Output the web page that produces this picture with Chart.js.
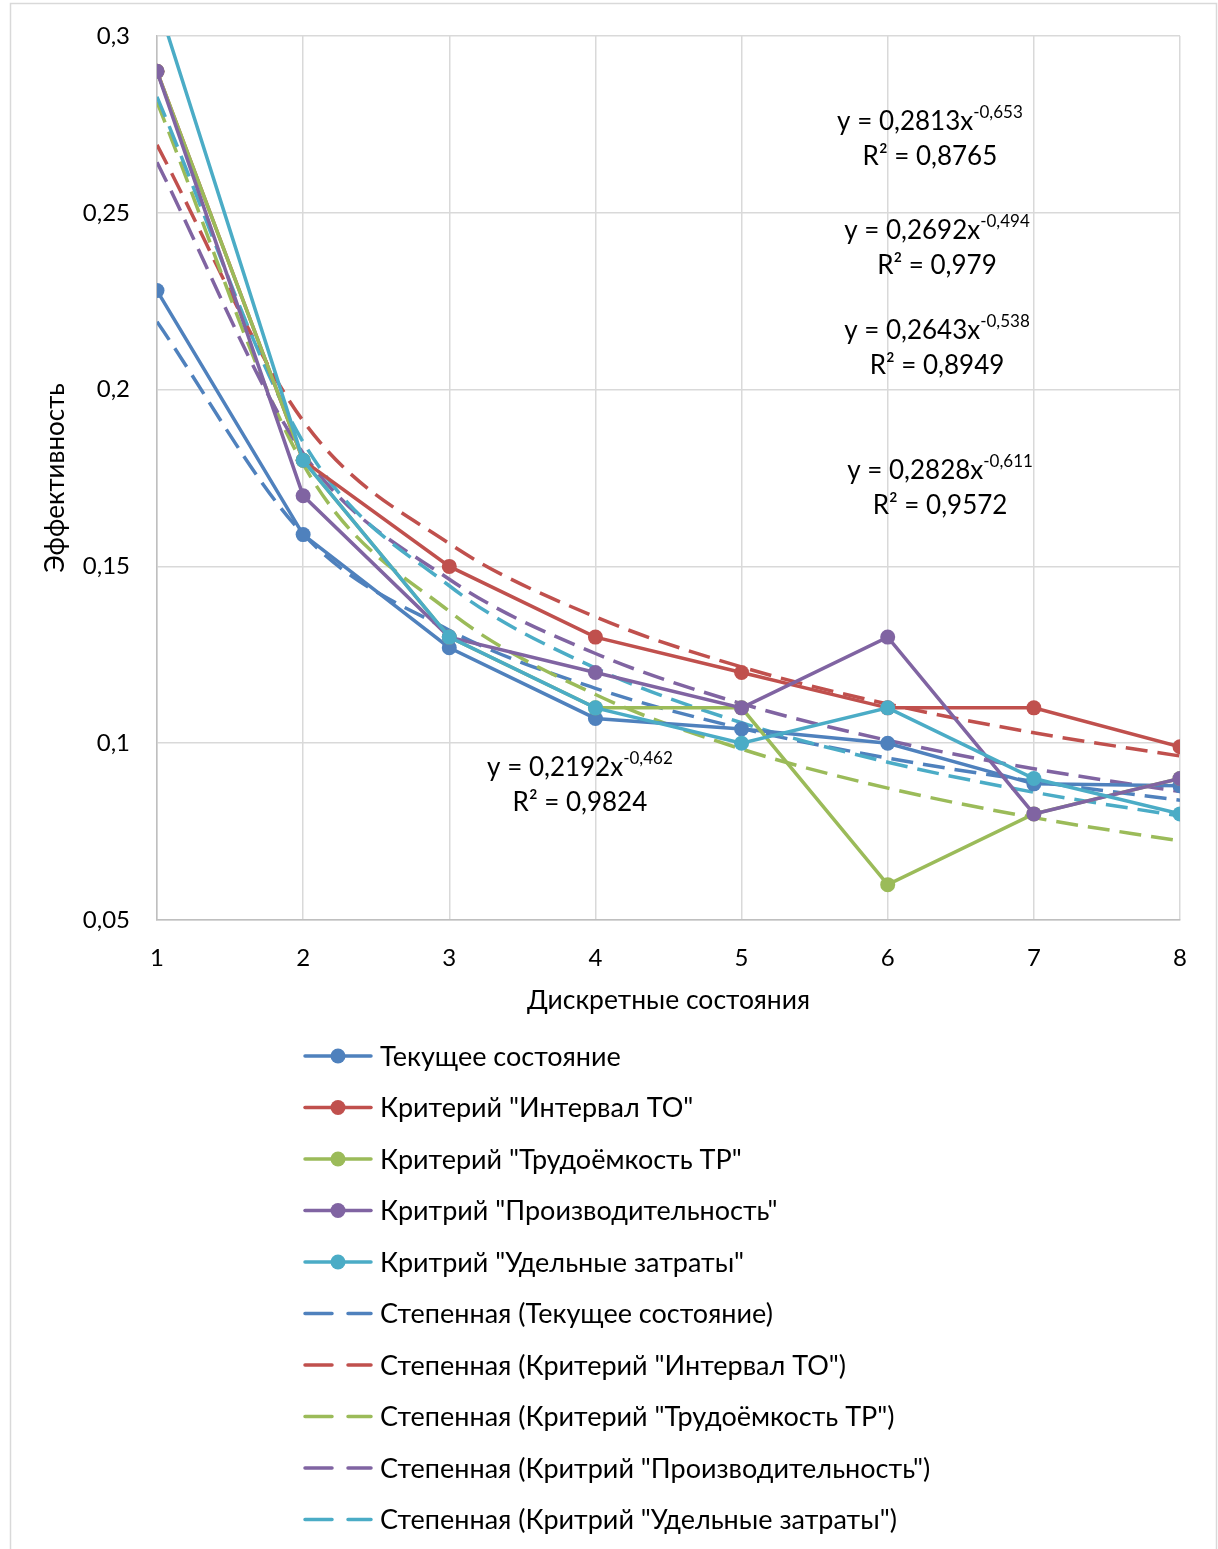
<!DOCTYPE html>
<html>
<head>
<meta charset="utf-8">
<script src="https://cdn.jsdelivr.net/npm/chart.js@4.4.1/dist/chart.umd.min.js"></script>
<style>
  html, body { margin: 0; padding: 0; background: #fff; }
  canvas { display: block; }
</style>
</head>
<body>
<canvas id="chart" width="1218" height="1549"></canvas>
<script>
// дискретные состояния
const states = [1, 2, 3, 4, 5, 6, 7, 8];

const seriesNames = [
  'Текущее состояние',
  'Критерий "Интервал ТО"',
  'Критерий "Трудоёмкость ТР"',
  'Критрий "Производительность"',
  'Критрий "Удельные затраты"'
];

// values
const tekushchee  = [0.228, 0.159, 0.127, 0.107, 0.104, 0.100, 0.0885, 0.088];
const intervalTO  = [0.29, 0.18, 0.15, 0.13, 0.12, 0.11, 0.11, 0.099];
const trudoemkost = [0.29, 0.18, 0.13, 0.11, 0.11, 0.06, 0.08, 0.09];
const proizvod    = [0.29, 0.17, 0.13, 0.12, 0.11, 0.13, 0.08, 0.09];
const zatraty     = [0.31, 0.18, 0.13, 0.11, 0.10, 0.11, 0.09, 0.08];

// степенные линии тренда y = a * x^b (coefficients printed on the chart)
const trendA  = [0.2192, 0.2692, 0.2813, 0.2643, 0.2828];
const trendB  = [-0.462, -0.494, -0.653, -0.538, -0.611];
const trendR2 = ['0,9824', '0,979', '0,8765', '0,8949', '0,9572'];

const colors = ['#4F81BD', '#C0504D', '#9BBB59', '#8064A2', '#4BACC6'];
const allSeries = [tekushchee, intervalTO, trudoemkost, proizvod, zatraty];

// where each equation label sits, in data units (centre of the first line)
const labelPos = [
  [3.894, 0.0930],
  [6.337, 0.2449],
  [6.289, 0.2757],
  [6.337, 0.2166],
  [6.358, 0.1770]
];

function comma(n) {
  return String(n).replace('.', ',');
}

const datasets = [];
allSeries.forEach(function (vals, i) {
  datasets.push({
    label: seriesNames[i],
    data: states.map(function (x, k) { return { x: x, y: vals[k] }; }),
    borderColor: colors[i],
    backgroundColor: colors[i],
    borderWidth: 3.5,
    pointRadius: 7.5,
    pointHoverRadius: 7.5,
    pointBorderWidth: 0,
    tension: 0,
    order: 5 - i
  });
});
allSeries.forEach(function (vals, i) {
  datasets.push({
    label: 'Степенная (' + seriesNames[i] + ')',
    data: states.map(function (x) { return { x: x, y: trendA[i] * Math.pow(x, trendB[i]) }; }),
    borderColor: colors[i],
    borderWidth: 3.5,
    borderDash: [22, 10],
    pointRadius: 0,
    cubicInterpolationMode: 'monotone',
    trend: true,
    order: 20 - i
  });
});

const extras = {
  id: 'extras',
  afterDraw: function (chart) {
    const ctx = chart.ctx;
    const xs = chart.scales.x, ys = chart.scales.y;
    ctx.save();

    // outer frame
    ctx.strokeStyle = '#D9D9D9';
    ctx.lineWidth = 1.5;
    ctx.beginPath();
    ctx.moveTo(10.5, 1560);
    ctx.lineTo(10.5, 3.5);
    ctx.lineTo(1216.5, 3.5);
    ctx.lineTo(1216.5, 1560);
    ctx.stroke();

    // trend equations
    ctx.fillStyle = '#000';
    ctx.textBaseline = 'middle';
    trendA.forEach(function (a, i) {
      const cx = xs.getPixelForValue(labelPos[i][0]);
      const cy = ys.getPixelForValue(labelPos[i][1]);
      const main = 'y = ' + comma(a) + 'x';
      const sup = comma(trendB[i]);
      ctx.font = '26px Lato';
      const w1 = ctx.measureText(main).width;
      ctx.font = '17px Lato';
      const w2 = ctx.measureText(sup).width;
      const x0 = cx - (w1 + w2) / 2;
      ctx.textAlign = 'left';
      ctx.font = '26px Lato';
      ctx.fillText(main, x0, cy);
      ctx.font = '17px Lato';
      ctx.fillText(sup, x0 + w1, cy - 9);
      ctx.font = '26px Lato';
      ctx.textAlign = 'center';
      ctx.fillText('R² = ' + trendR2[i], cx, cy + 35);
    });

    // legend, one entry per row
    const items = chart.data.datasets;
    ctx.textAlign = 'left';
    ctx.font = '27px Lato';
    items.forEach(function (ds, i) {
      const y = 1056 + i * 51.5;
      ctx.strokeStyle = ds.borderColor;
      ctx.lineWidth = 3.5;
      ctx.lineCap = 'round';
      ctx.beginPath();
      if (ds.trend) {
        ctx.moveTo(305, y); ctx.lineTo(332, y);
        ctx.moveTo(348, y); ctx.lineTo(371, y);
      } else {
        ctx.moveTo(305, y); ctx.lineTo(371, y);
      }
      ctx.stroke();
      if (!ds.trend) {
        ctx.fillStyle = ds.borderColor;
        ctx.beginPath();
        ctx.arc(338, y, 7.5, 0, Math.PI * 2);
        ctx.fill();
      }
      ctx.fillStyle = '#000';
      ctx.fillText(ds.label, 380, y + 1);
    });
    ctx.restore();
  }
};

const ctx = document.getElementById('chart').getContext('2d');
const chart = new Chart(ctx, {
  type: 'line',
  data: { datasets: datasets },
  options: {
    responsive: false,
    animation: false,
    events: [],
    layout: { padding: { left: 0, right: 38, top: 36, bottom: 519 } },
    plugins: {
      legend: { display: false },
      tooltip: { enabled: false }
    },
    scales: {
      x: {
        type: 'linear',
        min: 1,
        max: 8,
        afterFit: function (scale) { scale.height = 110; },
        ticks: {
          stepSize: 1,
          padding: 24,
          color: '#000',
          font: { family: 'Lato', size: 24 }
        },
        grid: { color: '#D9D9D9', lineWidth: 1.5, drawTicks: false },
        border: { color: '#BFBFBF', width: 1.5 },
        title: {
          display: true,
          text: 'Дискретные состояния',
          color: '#000',
          font: { family: 'Lato', size: 26.5 },
          padding: { top: 0, bottom: 14 }
        }
      },
      y: {
        min: 0.05,
        max: 0.3,
        afterFit: function (scale) { scale.width = 157; },
        ticks: {
          stepSize: 0.05,
          padding: 27,
          color: '#000',
          // small lineHeight so the top label does not push the plot down
          font: { family: 'Lato', size: 24, lineHeight: 0.5 },
          callback: function (v) { return comma(+v.toFixed(2)); }
        },
        grid: { color: '#D9D9D9', lineWidth: 1.5, drawTicks: false },
        border: { color: '#BFBFBF', width: 1.5 },
        title: {
          display: true,
          text: 'Эффективность',
          color: '#000',
          font: { family: 'Lato', size: 26 },
          padding: { top: 40, bottom: 0 }
        }
      }
    }
  },
  plugins: [extras]
});
</script>
</body>
</html>
